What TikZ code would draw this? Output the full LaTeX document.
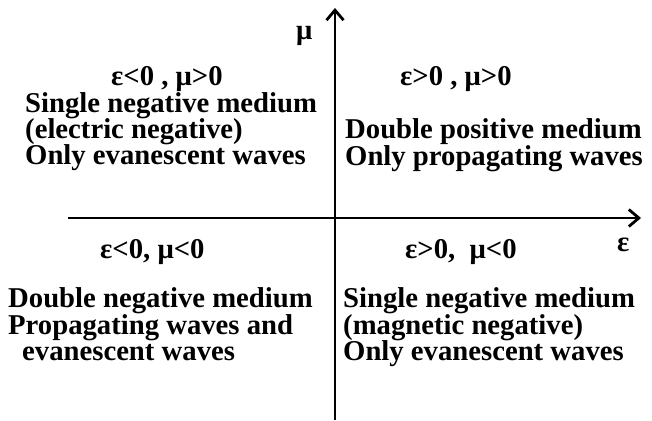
\documentclass[tikz,border=0pt]{standalone}
\usepackage{fontspec}
\setmainfont{Liberation Serif}
\usetikzlibrary{arrows.meta}
\tikzset{
  txt/.style={anchor=base west, inner sep=0pt, font=\fontsize{28.7}{28.7}\selectfont\bfseries},
  axis/.style={line width=2.6pt, -{Straight Barb[length=10pt,width=17pt,line width=2.8pt]}}
}
\begin{document}
\begin{tikzpicture}[x=1pt,y=-1pt]
\useasboundingbox (0,0) rectangle (652,420);
\coordinate (xs) at (68,218);
\coordinate (xe) at (641,218);
\coordinate (ys) at (335,420);
\coordinate (ye) at (335,8);
\draw[axis] (xs) -- (xe);
\draw[axis] (ys) -- (ye);
\node[txt] (mu) at (296,40) {μ};
\node[txt] (eps) at (617,251) {ε};
% top left
\node[txt] (a1) at (111,85) {ε<0 , μ>0};
\node[txt] (a2) at (25,112) {Single negative medium};
\node[txt] (a3) at (25,138) {(electric negative)};
\node[txt] (a4) at (25,164) {Only evanescent waves};
% top right
\node[txt] (b1) at (400,85) {ε>0 , μ>0};
\node[txt] (b2) at (345,138) {Double positive medium};
\node[txt] (b3) at (345,165) {Only propagating waves};
% bottom left
\node[txt] (c1) at (100,258) {ε<0, μ<0};
\node[txt] (c2) at (8,307) {Double negative medium};
\node[txt] (c3) at (8,334) {Propagating waves and};
\node[txt] (c4) at (22,360) {evanescent waves};
% bottom right
\node[txt] (d1) at (405,258) {ε>0,~ μ<0};
\node[txt] (d2) at (343,307) {Single negative medium};
\node[txt] (d3) at (343,334) {(magnetic negative)};
\node[txt] (d4) at (343,360) {Only evanescent waves};
\end{tikzpicture}
\end{document}
